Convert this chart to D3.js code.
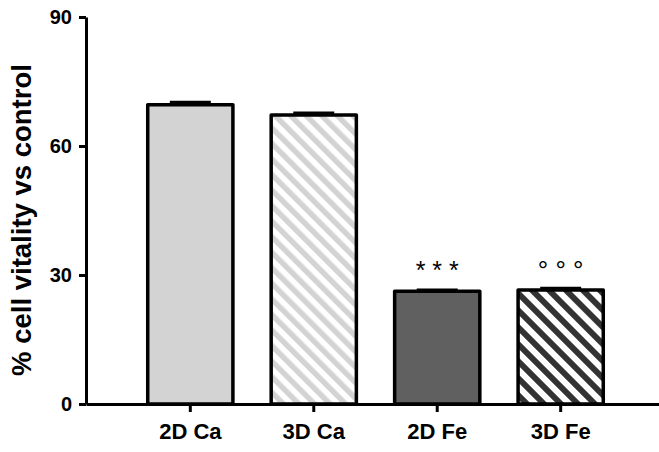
<!DOCTYPE html>
<html>
<head>
<meta charset="utf-8">
<script src="https://cdn.jsdelivr.net/npm/d3@7"></script>
<style>
  body { margin: 0; background: #fff; }
  svg { display: block; font-family: "Liberation Sans", Arial, sans-serif; font-weight: bold; }
</style>
</head>
<body>
<svg id="drawing_region"></svg>
<script>
// chart data
const categories = ["2D Ca", "3D Ca", "2D Fe", "3D Fe"];
const means = [69.6, 67.2, 26.2, 26.5];
const errors = [0.6, 0.5, 0.3, 0.4];
const marks = ["", "", "* * *", "° ° °"];
const yTicks = [0, 30, 60, 90];

const width = 659, height = 452;

const svg = d3.select("#drawing_region")
  .attr("width", width)
  .attr("height", height);

// patterns
const defs = svg.append("defs");
function stripes(id, color, size) {
  const p = defs.append("pattern")
    .attr("id", id)
    .attr("patternUnits", "userSpaceOnUse")
    .attr("width", size)
    .attr("height", size)
    .attr("patternTransform", "rotate(-45)");
  p.append("rect").attr("width", size).attr("height", size).attr("fill", "#fff");
  p.append("rect").attr("width", size / 2).attr("height", size).attr("fill", color);
}
stripes("lightStripes", "#d3d3d3", 11);
stripes("darkStripes", "#333333", 12);

const fills = ["#d3d3d3", "url(#lightStripes)", "#606060", "url(#darkStripes)"];

const x = d3.scaleBand()
  .domain(categories)
  .range([86, 665])
  .paddingInner(0.31)
  .paddingOuter(0.5);

const y = d3.scaleLinear()
  .domain([0, 90])
  .range([404, 17]);

const data = categories.map((c, i) => ({ label: c, value: means[i], err: errors[i], fill: fills[i], mark: marks[i] }));

// bars
svg.selectAll("rect.bar").data(data).enter()
  .append("rect")
  .attr("class", "bar")
  .attr("x", d => x(d.label))
  .attr("y", d => y(d.value))
  .attr("width", x.bandwidth())
  .attr("height", d => y(0) - y(d.value))
  .attr("fill", d => d.fill)
  .attr("stroke", "#000")
  .attr("stroke-width", 3.5)
  .attr("stroke-linejoin", "round");

// error bars (upper only)
const capW = 41;
svg.selectAll("line.err").data(data).enter()
  .append("line")
  .attr("x1", d => x(d.label) + x.bandwidth() / 2)
  .attr("x2", d => x(d.label) + x.bandwidth() / 2)
  .attr("y1", d => y(d.value))
  .attr("y2", d => y(d.value + d.err))
  .attr("stroke", "#000")
  .attr("stroke-width", 3);
svg.selectAll("line.cap").data(data).enter()
  .append("line")
  .attr("x1", d => x(d.label) + x.bandwidth() / 2 - capW / 2)
  .attr("x2", d => x(d.label) + x.bandwidth() / 2 + capW / 2)
  .attr("y1", d => y(d.value + d.err))
  .attr("y2", d => y(d.value + d.err))
  .attr("stroke", "#000")
  .attr("stroke-width", 3);

// significance marks
svg.selectAll("text.mark").data(data.filter(d => d.mark)).enter()
  .append("text")
  .attr("x", d => x(d.label) + x.bandwidth() / 2)
  .attr("y", d => d.mark.startsWith("*") ? 279 : 279)
  .attr("text-anchor", "middle")
  .attr("font-size", d => d.mark.startsWith("*") ? 25 : 26)
  .attr("font-weight", "normal")
  .text(d => d.mark);

// axes
const yaxis = d3.axisLeft(y).tickValues(yTicks).tickSize(7).tickSizeOuter(0).tickPadding(7);
const yg = svg.append("g").attr("transform", "translate(86,0)").call(yaxis);

const xaxis = d3.axisBottom(x).tickSize(8).tickSizeOuter(0).tickPadding(11);
const xg = svg.append("g").attr("transform", "translate(0,404)").call(xaxis);

[yg, xg].forEach(g => {
  g.select(".domain").attr("stroke", "#000").attr("stroke-width", 3);
  g.selectAll(".tick line").attr("stroke", "#000").attr("stroke-width", 3);
  g.selectAll("text").attr("fill", "#000").attr("font-family", "'Liberation Sans', Arial, sans-serif").attr("font-weight", "bold");
});
yg.selectAll("text").attr("font-size", 20);
xg.selectAll("text").attr("font-size", 22);

// y title
svg.append("text")
  .attr("transform", "translate(31,220) rotate(-90)")
  .attr("text-anchor", "middle")
  .attr("font-size", 27.5)
  .text("% cell vitality vs control");
</script>
</body>
</html>
